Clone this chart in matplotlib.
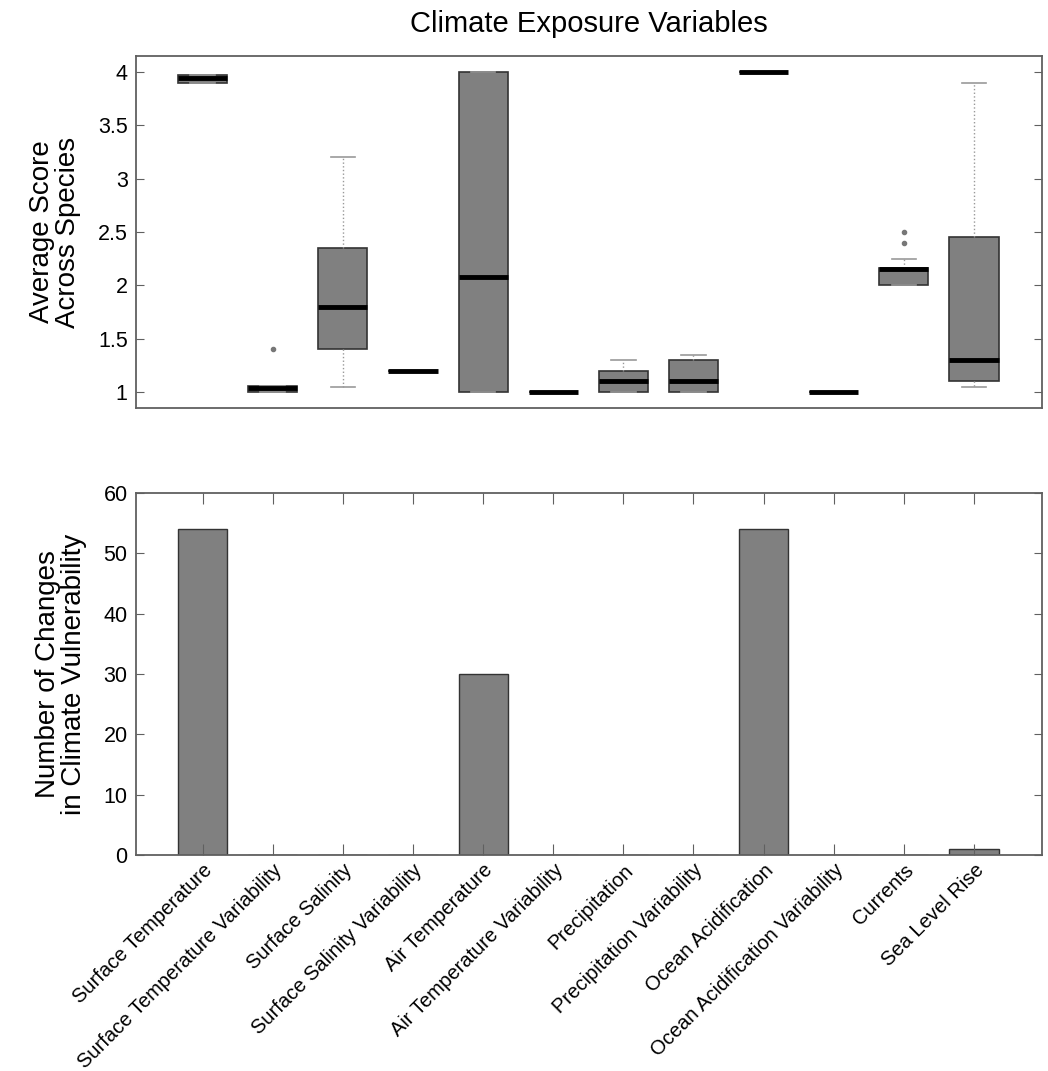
import matplotlib
matplotlib.use("Agg")
from matplotlib import pyplot as plt

plt.rcParams['font.family'] = ['Liberation Sans', 'DejaVu Sans']

variables = ["Surface Temperature", "Surface Temperature Variability", "Surface Salinity",
             "Surface Salinity Variability", "Air Temperature", "Air Temperature Variability",
             "Precipitation", "Precipitation Variability", "Ocean Acidification",
             "Ocean Acidification Variability", "Currents", "Sea Level Rise"]

# box statistics
whisker_low = [3.90, 1.00, 1.05, 1.20, 1.00, 1.00, 1.00, 1.00, 4.00, 1.00, 2.00, 1.05]
q1 = [3.90, 1.00, 1.40, 1.20, 1.00, 1.00, 1.00, 1.00, 4.00, 1.00, 2.00, 1.10]
medians = [3.94, 1.04, 1.80, 1.20, 2.08, 1.00, 1.10, 1.10, 4.00, 1.00, 2.15, 1.30]
q3 = [3.97, 1.06, 2.35, 1.20, 4.00, 1.00, 1.20, 1.30, 4.00, 1.00, 2.16, 2.45]
whisker_high = [3.97, 1.06, 3.20, 1.20, 4.00, 1.00, 1.30, 1.35, 4.00, 1.00, 2.25, 3.90]
outliers = [[], [1.40], [], [], [], [], [], [], [], [], [2.40, 2.50], []]

# number of changes in climate vulnerability
changes = [54, 0, 0, 0, 30, 0, 0, 0, 54, 0, 0, 1]

pos = list(range(1, len(variables) + 1))
spine_col = "#606060"

fig = plt.figure(figsize=(10.48, 10.71), dpi=100)
ax1 = fig.add_axes([136 / 1048, 1 - 408 / 1071, (1042 - 136) / 1048, (408 - 56) / 1071])
ax2 = fig.add_axes([136 / 1048, 1 - 855 / 1071, (1042 - 136) / 1048, (855 - 493) / 1071])

stats = []
for i in range(len(variables)):
    stats.append({"whislo": whisker_low[i], "q1": q1[i], "med": medians[i], "q3": q3[i],
                  "whishi": whisker_high[i], "fliers": outliers[i]})

ax1.bxp(stats, positions=pos, widths=0.7, patch_artist=True,
        boxprops=dict(facecolor="#808080", edgecolor="#333333", linewidth=1.2),
        medianprops=dict(color="black", linewidth=3.5, solid_capstyle="butt"),
        whiskerprops=dict(color="#999999", linestyle=":", linewidth=1),
        capprops=dict(color="#999999", linewidth=1.2),
        flierprops=dict(marker="o", markersize=3, markerfacecolor="#777777",
                        markeredgecolor="#777777"),
        capwidths=0.35)
ax1.set_xlim(0.05, 12.97)
ax1.set_ylim(0.85, 4.15)
ax1.set_yticks([1, 1.5, 2, 2.5, 3, 3.5, 4])
ax1.set_yticklabels(["1", "1.5", "2", "2.5", "3", "3.5", "4"])
ax1.set_xticks([])
ax1.tick_params(axis="y", direction="in", right=True, length=6, color=spine_col,
                labelsize=15.5, pad=6)
ax1.set_ylabel("Average Score\nAcross Species", fontsize=20, labelpad=12, linespacing=1.0)
ax1.set_title("Climate Exposure Variables", fontsize=21, pad=17)

ax2.bar(pos, changes, width=0.7, color="#808080", edgecolor="#333333", linewidth=1.0)
ax2.set_xlim(0.05, 12.97)
ax2.set_ylim(0, 60)
ax2.set_yticks(range(0, 61, 10))
ax2.set_xticks(pos)
ax2.set_xticklabels(variables, rotation=45, ha="right", rotation_mode="anchor")
ax2.tick_params(axis="x", direction="in", top=True, length=8, color=spine_col,
                labelsize=14.5, pad=4)
ax2.tick_params(axis="y", direction="in", right=True, length=6, color=spine_col,
                labelsize=15.5, pad=6)
ax2.set_ylabel("Number of Changes\nin Climate Vulnerability", fontsize=20, labelpad=12,
               linespacing=1.0)

for ax in (ax1, ax2):
    for s in ax.spines.values():
        s.set_color(spine_col)
        s.set_linewidth(1.3)

plt.savefig("out.png", dpi=100)
